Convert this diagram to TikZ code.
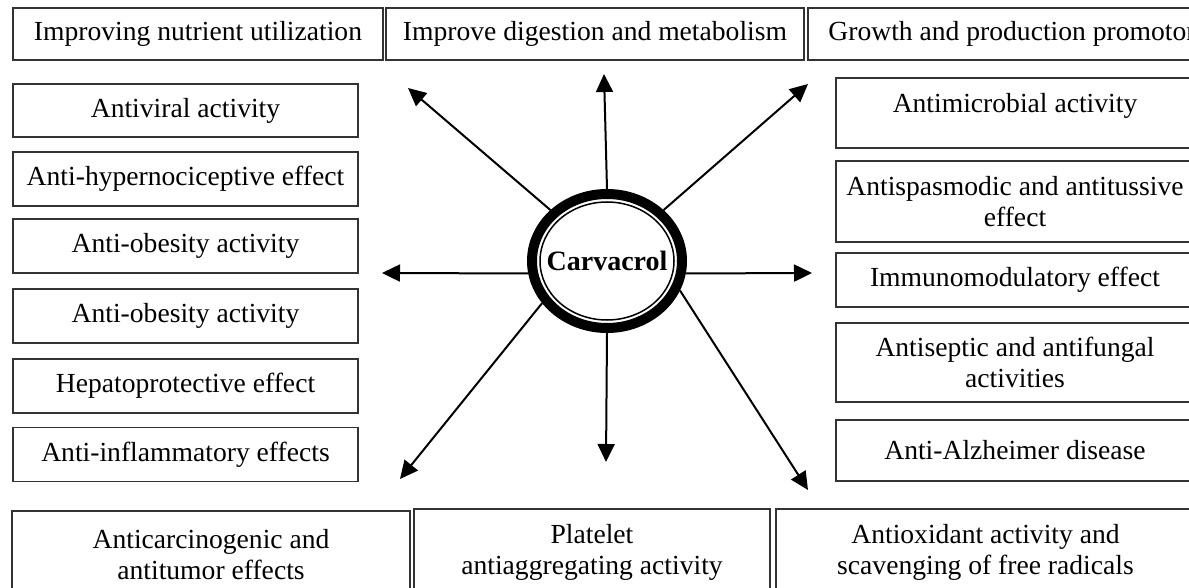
\documentclass[tikz,border=0pt]{standalone}
\usepackage{fontspec}
\setmainfont{Liberation Serif}
\usetikzlibrary{arrows.meta,shapes.geometric}
\tikzset{effect/.style={draw=black!80,line width=1.3pt,rectangle,align=center,
                        inner sep=2pt,font=\fontsize{27.6}{31}\selectfont},
         core/.style={ellipse,draw,line width=10pt,inner sep=0pt,
                      font=\fontsize{28}{32}\selectfont\bfseries},
         spoke/.style={-{Triangle[length=18pt,width=17pt]},line width=2pt}}

\begin{document}
\begin{tikzpicture}[x=1pt,y=-1pt]
      \useasboundingbox (0,0) rectangle (1189,588);
      \clip (0,0) rectangle (1189,588);
      % top row
      \node[effect,minimum width=370pt,minimum height=52pt] (nutr) at (198,34) {Improving nutrient utilization};
      \node[effect,minimum width=418pt,minimum height=52pt] (dige) at (595,34) {Improve digestion and metabolism};
      \node[effect,minimum width=408pt,minimum height=52pt] (grow) at (1012,34) {Growth and production promotor};
      % left column
      \node[effect,minimum width=345pt,minimum height=53pt] (viral) at (185.5,110.5) {Antiviral activity};
      \node[effect,minimum width=345pt,minimum height=54pt] (hyper) at (185.5,179) {Anti-hypernociceptive effect};
      \node[effect,minimum width=345pt,minimum height=54pt] (obesa) at (185.5,246) {Anti-obesity activity};
      \node[effect,minimum width=345pt,minimum height=54pt] (obesb) at (185.5,316) {Anti-obesity activity};
      \node[effect,minimum width=345pt,minimum height=54pt] (hepat) at (185.5,386) {Hepatoprotective effect};
      \node[effect,minimum width=345pt,minimum height=54pt] (infla) at (185.5,454.5) {Anti-inflammatory effects};
      % right column
      \node[effect,minimum width=358pt,minimum height=70pt,text depth=20pt] (micro) at (1015,113) {Antimicrobial activity};
      \node[effect,minimum width=358pt,minimum height=81pt] (spasm) at (1015,201.5) {Antispasmodic and antitussive\\effect};
      \node[effect,minimum width=358pt,minimum height=54pt] (immun) at (1015,280) {Immunomodulatory effect};
      \node[effect,minimum width=358pt,minimum height=79pt] (septi) at (1015,362.5) {Antiseptic and antifungal\\activities};
      \node[effect,minimum width=358pt,minimum height=61pt] (alzhe) at (1015,450.5) {Anti-Alzheimer disease};
      % bottom row
      \node[effect,minimum width=398pt,minimum height=87pt] (carci) at (211,554.5) {Anticarcinogenic and\\antitumor effects};
      \node[effect,minimum width=356pt,minimum height=87pt] (plate) at (592,552.5) {Platelet\\antiaggregating activity};
      \node[effect,minimum width=419pt,minimum height=87pt] (oxida) at (985.5,552.5) {Antioxidant activity and\\scavenging of free radicals};
      % centre
      \node[core,minimum width=150pt,minimum height=134pt] (carv) at (607,261) {\makebox[0pt]{Carvacrol}};
      \draw[line width=1.5pt] (carv.center) ellipse [x radius=67pt,y radius=59pt];
      % arrow ends
      \coordinate (tNW) at (408,88);
      \coordinate (tN) at (604,74);
      \coordinate (tNE) at (808,84);
      \coordinate (tW) at (382,273);
      \coordinate (tE) at (812,273);
      \coordinate (tSW) at (400,479);
      \coordinate (tS) at (606,462);
      \coordinate (tSE) at (808,490);
      \draw[spoke] (carv.138) -- (tNW);
      \draw[spoke] (carv.90) -- (tN);
      \draw[spoke] (carv.42) -- (tNE);
      \draw[spoke] (carv.189) -- (tW);
      \draw[spoke] (carv.351) -- (tE);
      \draw[spoke] (carv.213) -- (tSW);
      \draw[spoke] (carv.270) -- (tS);
      \draw[spoke] (carv.338) -- (tSE);
\end{tikzpicture}
\end{document}
